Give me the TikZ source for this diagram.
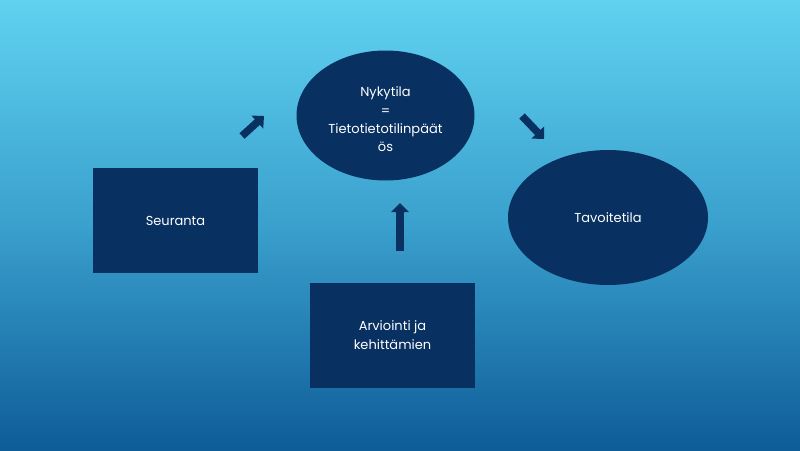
\documentclass[tikz,border=0pt]{standalone}
\usepackage{fontspec}
\setmainfont{Poppins}
\usetikzlibrary{arrows.meta,shapes.geometric}
\definecolor{navy}{RGB}{8,48,96}
\definecolor{bgtop}{RGB}{96,210,240}
\definecolor{bgmid}{RGB}{58,160,205}
\definecolor{bgbot}{RGB}{14,92,152}
\tikzset{
  navyshape/.style={fill=navy, text=white, font=\fontsize{13}{18.3}\selectfont, align=center, inner sep=0pt},
  boxnode/.style={navyshape, rectangle, minimum width=165pt, minimum height=105pt},
  ovalnode/.style={navyshape, ellipse},
  blockarrow/.style={draw=navy, line width=7.5pt, -{Triangle[length=9pt,width=17pt]}}
}
\begin{document}
\begin{tikzpicture}[x=1pt,y=-1pt]
\shade[top color=bgtop, bottom color=bgbot, middle color=bgmid] (0,0) rectangle (800,450);
\useasboundingbox (0,0) rectangle (800,450);
\node[ovalnode, minimum width=178pt, minimum height=130pt] (ny) at (385.5,115.5) {\rule{0pt}{18pt}Nykytila\\=\\Tietotietotilinpäät\\ös};
\node[ovalnode, minimum width=200pt, minimum height=135pt] (ta) at (608,217.5) {Tavoitetila};
\node[boxnode] (se) at (175.5,220.5) {Seuranta};
\node[boxnode] (ar) at (392.5,335) {Arviointi ja\\kehittämien};
\coordinate (a1s) at (242,136);
\coordinate (a1e) at (264,116);
\coordinate (a2s) at (522,116);
\coordinate (a2e) at (544,139);
\coordinate (a3s) at (400,251);
\coordinate (a3e) at (400,203);
\draw[blockarrow] (a1s) -- (a1e);
\draw[blockarrow] (a2s) -- (a2e);
\draw[blockarrow] (a3s) -- (a3e);
\end{tikzpicture}
\end{document}
